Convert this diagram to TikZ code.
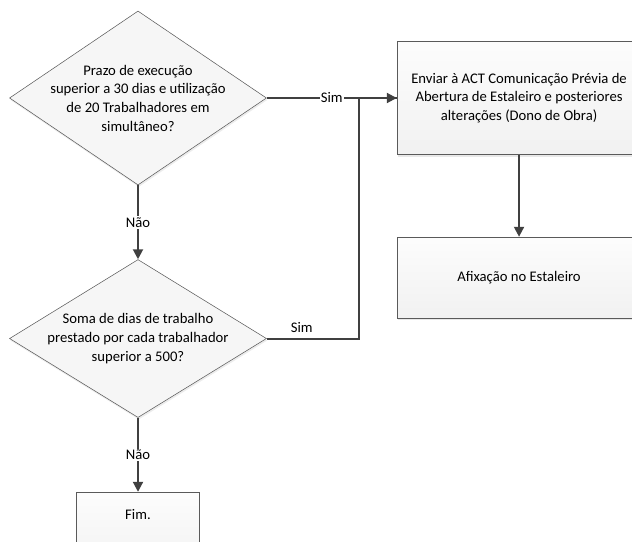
\documentclass[tikz,border=0pt]{standalone}
\usepackage{fontspec}
\setmainfont{Carlito}
\usepackage{tikz}
\usetikzlibrary{positioning,shapes.geometric,arrows.meta,shadows}

\definecolor{linha}{HTML}{404040}
\definecolor{borda}{HTML}{5A5A5A}

\begin{document}
\begin{tikzpicture}[x=0.75pt, y=-0.75pt, node distance=55.5pt, font=\fontsize{11}{14}\selectfont,
    decisao/.style={diamond, draw=borda, fill=gray!7, aspect=1.48, inner sep=-12pt, align=center, minimum width=192.75pt, drop shadow={shadow xshift=0.6pt, shadow yshift=-1.5pt, fill=gray!30}},
    caixa/.style={rectangle, draw=borda, top color=gray!2, bottom color=gray!11, align=center, drop shadow={shadow xshift=0.6pt, shadow yshift=-1.8pt, fill=gray!35}},
    seta/.style={draw=linha, line width=1.5pt, -{Triangle[length=7.5pt, width=7.5pt]}},
    fio/.style={draw=linha, line width=0.8pt},
    rotulo/.style={fill=white, inner sep=1pt}]
    \useasboundingbox (0,0) rectangle (632,542);
    % Nós
    \node [decisao, minimum height=130.5pt] (prazo) at (138,98) {Prazo de execução\\ superior a 30 dias e utilização\\ de 20 Trabalhadores em\\ simultâneo?};
    \node [decisao, minimum height=118.5pt, below=of prazo] (soma) {Soma de dias de trabalho\\ prestado por cada trabalhador\\ superior a 500?};
    \node [caixa, right=97.5pt of prazo, minimum width=183pt, minimum height=84.75pt] (enviar) {Enviar à ACT Comunicação Prévia de\\ Abertura de Estaleiro e posteriores\\ alterações (Dono de Obra)};
    \node [caixa, below=61.5pt of enviar, minimum width=183pt, minimum height=60.75pt] (afixacao) {Afixação no Estaleiro};
    \node [caixa, below=of soma, minimum width=92.25pt, minimum height=60.75pt, text height=7.5pt, text depth=26.7pt] (fim) {Fim.};
    \coordinate (junta) at (359,98);

    % Ligações
    \draw [fio] (prazo) -- node[rotulo] {Sim} (enviar);
    \draw [seta] (soma.east) -| node[pos=0.19, above] {Sim} (junta) -- (enviar.west);
    \draw [seta] (prazo) -- node[rotulo] {Não} (soma);
    \draw [seta] (soma) -- node[rotulo] {Não} (fim);
    \draw [seta] (enviar) -- (afixacao);
\end{tikzpicture}
\end{document}
